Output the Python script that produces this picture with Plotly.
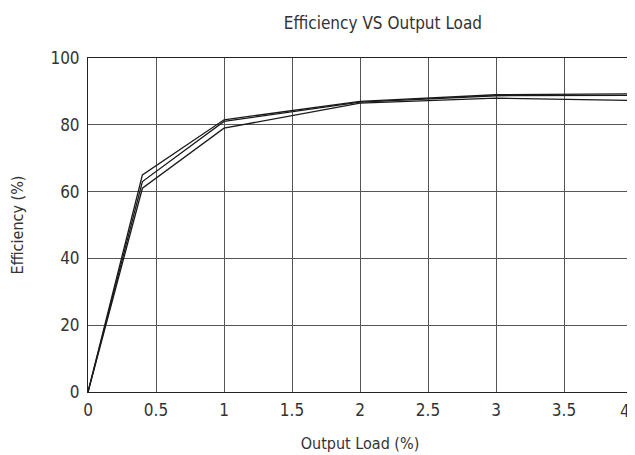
import plotly.graph_objects as go

load = [0, 0.4, 1, 2, 3, 4]
eff_a = [0, 65, 81.5, 87, 89, 89.3]
eff_b = [0, 63, 81, 86.8, 88.7, 88.8]
eff_c = [0, 61, 79, 86.5, 88, 87.3]

x_ticks = [0, 0.5, 1, 1.5, 2, 2.5, 3, 3.5, 4]
x_labels = ["0", "0.5", "1", "1.5", "2", "2.5", "3", "3.5", "4"]
y_ticks = [0, 20, 40, 60, 80, 100]

FONT = "DejaVu Sans Condensed, Liberation Sans Narrow, Liberation Sans, Arial, sans-serif"

fig = go.Figure()
for ys in (eff_a, eff_b, eff_c):
    fig.add_trace(go.Scatter(x=load, y=ys, mode="lines",
                             line=dict(color="#1a1a1a", width=1.3),
                             showlegend=False, cliponaxis=False))

fig.update_layout(
    width=627, height=447,
    margin=dict(l=80, r=3, t=50, b=63, autoexpand=False),
    paper_bgcolor="white", plot_bgcolor="white",
    font=dict(family=FONT, color="#333", size=16),
    title=dict(text="Efficiency VS Output Load", x=0.598, xanchor="center",
               y=0.966, yanchor="middle", font=dict(size=17, family=FONT, color="#333")),
)
# last x tick label is right-aligned so it stays inside the page edge
shown_labels = x_labels[:-1] + [""]
fig.add_annotation(x=x_ticks[-1], y=0, xref="x", yref="paper",
                   text=x_labels[-1], showarrow=False,
                   xanchor="right", yanchor="top", xshift=0, yshift=-7,
                   font=dict(size=17, family=FONT, color="#333"))
fig.update_xaxes(range=[0, 4], tickvals=x_ticks, ticktext=shown_labels,
                 showgrid=True, gridcolor="#555", gridwidth=1,
                 showline=True, linecolor="#222", linewidth=1, mirror=True,
                 zeroline=False, ticks="", ticklen=0, automargin=False,
                 ticklabelstandoff=3, ticklabeloverflow="allow",
                 title=dict(text="Output Load (%)", font=dict(size=16), standoff=18),
                 tickfont=dict(size=17))
fig.update_yaxes(range=[0, 100], tickvals=y_ticks,
                 showgrid=True, gridcolor="#555", gridwidth=1,
                 showline=True, linecolor="#222", linewidth=1, mirror=True,
                 zeroline=False, ticks="", ticklen=0, automargin=False,
                 ticklabelstandoff=4, ticklabeloverflow="allow",
                 title=dict(text="Efficiency (%)", font=dict(size=16), standoff=32),
                 tickfont=dict(size=17))

fig.write_html("out.html")
